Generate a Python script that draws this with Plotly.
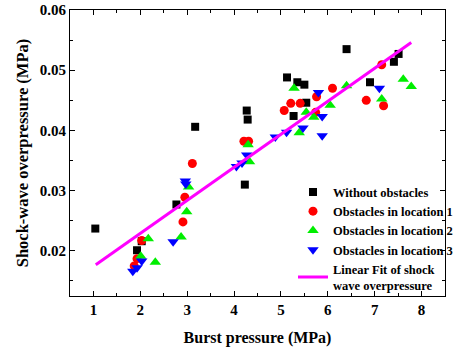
import plotly.graph_objects as go

# Without obstacles
x0 = [1.04, 1.93, 2.03, 2.77, 3.17, 4.23, 4.27, 4.29, 5.13, 5.27, 5.35, 5.50, 5.54, 6.40, 6.90, 7.41, 7.51]
y0 = [0.0237, 0.0201, 0.0216, 0.0277, 0.0406, 0.0310, 0.0433, 0.0418, 0.0488, 0.0424, 0.0480, 0.0476, 0.0446, 0.0535, 0.0480, 0.0514, 0.0527]

# Obstacles in location 1
x1 = [1.87, 1.93, 2.03, 2.91, 2.95, 3.11, 4.21, 4.31, 5.07, 5.21, 5.41, 5.74, 5.76, 6.10, 6.82, 7.15, 7.19]
y1 = [0.0175, 0.0187, 0.0217, 0.0248, 0.0289, 0.0345, 0.0382, 0.0382, 0.0433, 0.0445, 0.0445, 0.0430, 0.0456, 0.0470, 0.0450, 0.0509, 0.0441]

# Obstacles in location 2
x2 = [2.01, 2.17, 2.32, 2.87, 2.99, 3.03, 4.30, 4.33, 5.28, 5.39, 5.54, 5.70, 6.05, 6.40, 7.15, 7.61, 7.78]
y2 = [0.0191, 0.0220, 0.0181, 0.0223, 0.0265, 0.0306, 0.0376, 0.0348, 0.0470, 0.0396, 0.0430, 0.0422, 0.0442, 0.0474, 0.0452, 0.0485, 0.0473]

# Obstacles in location 3
x3 = [1.84, 1.93, 2.03, 2.70, 2.96, 2.97, 4.05, 4.17, 4.27, 4.88, 5.12, 5.47, 5.80, 5.88, 5.88, 7.10]
y3 = [0.0166, 0.0172, 0.0183, 0.0215, 0.0316, 0.0311, 0.0340, 0.0346, 0.0359, 0.0389, 0.0397, 0.0404, 0.0463, 0.0423, 0.0391, 0.0470]

# Linear fit endpoints
fit_x = [1.05, 7.78]
fit_y = [0.0177, 0.0546]

FONT = "Liberation Serif"

fig = go.Figure()
fig.add_trace(go.Scatter(x=x0, y=y0, mode="markers", name="Without obstacles",
                         marker=dict(symbol="square", size=8, color="black")))
fig.add_trace(go.Scatter(x=x1, y=y1, mode="markers", name="Obstacles in location 1",
                         marker=dict(symbol="circle", size=9, color="red")))
fig.add_trace(go.Scatter(x=x2, y=y2, mode="markers", name="Obstacles in location 2",
                         marker=dict(symbol="triangle-up", size=10, color="#00ee00")))
fig.add_trace(go.Scatter(x=x3, y=y3, mode="markers", name="Obstacles in location 3",
                         marker=dict(symbol="triangle-down", size=10, color="#0000ff")))
fig.add_trace(go.Scatter(x=fit_x, y=fit_y, mode="lines",
                         name="Linear Fit of shock<br>wave overpressure",
                         line=dict(color="#ff00ff", width=3)))

axis_common = dict(
    showline=True, linecolor="black", linewidth=1, mirror="ticks",
    ticks="inside", ticklen=5, tickcolor="black", showgrid=False, zeroline=False,
    tickfont=dict(family=FONT, size=15, color="black", weight="bold"),
)

fig.update_xaxes(range=[0.5, 8.5], tickvals=[1, 2, 3, 4, 5, 6, 7, 8],
                 minor=dict(dtick=0.5, tick0=0.5, ticks="inside", ticklen=3, tickcolor="black"),
                 title=dict(text="Burst pressure (MPa)", font=dict(family=FONT, size=16, color="black", weight="bold"), standoff=14),
                 **axis_common)
fig.update_yaxes(range=[0.0125, 0.06], tickvals=[0.02, 0.03, 0.04, 0.05, 0.06],
                 ticktext=["0.02", "0.03", "0.04", "0.05", "0.06"],
                 minor=dict(dtick=0.005, tick0=0.0, ticks="inside", ticklen=3, tickcolor="black"),
                 title=dict(text="Shock-wave overpressure (MPa)", font=dict(family=FONT, size=16.5, color="black", weight="bold"), standoff=6),
                 **axis_common)

fig.update_layout(
    width=458, height=349,
    margin=dict(l=70, r=0, t=10, b=53),
    paper_bgcolor="white", plot_bgcolor="white",
    showlegend=True,
    legend=dict(x=0.595, y=0.415, xanchor="left", yanchor="top",
                bgcolor="rgba(0,0,0,0)", borderwidth=0,
                font=dict(family=FONT, size=12.5, color="black", weight="bold")),
)

fig.write_html("out.html")
